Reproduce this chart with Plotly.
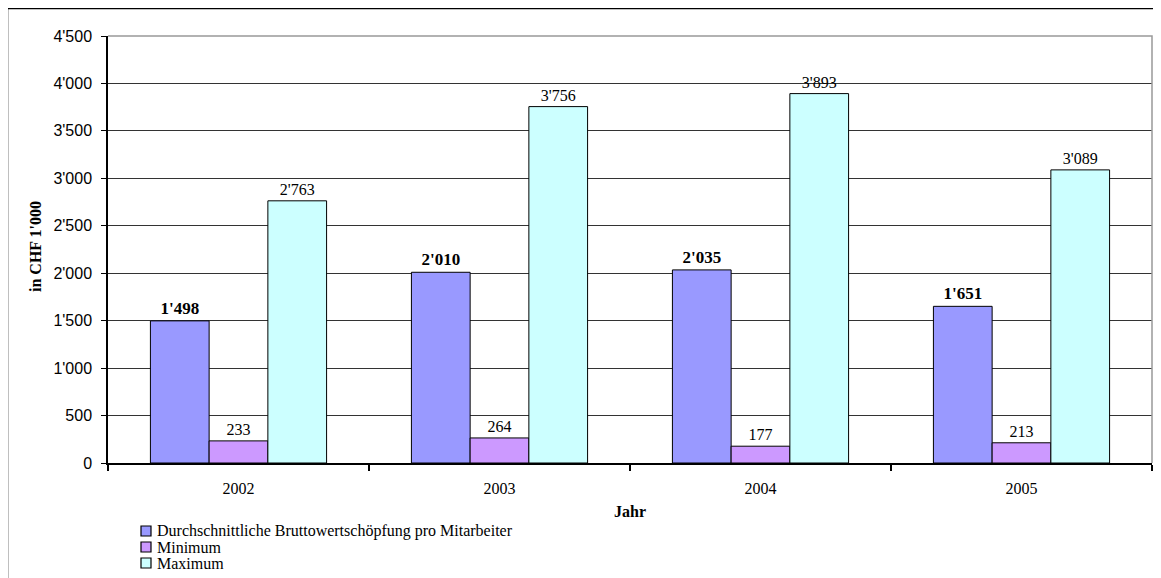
import plotly.graph_objects as go

years = ["2002", "2003", "2004", "2005"]
avg_vals = [1498, 2010, 2035, 1651]
min_vals = [233, 264, 177, 213]
max_vals = [2763, 3756, 3893, 3089]
series_names = ["Durchschnittliche Bruttowertschöpfung pro Mitarbeiter", "Minimum", "Maximum"]
series_colors = ["#9999FF", "#CC99FF", "#CCFFFF"]
y_ticks = [0, 500, 1000, 1500, 2000, 2500, 3000, 3500, 4000, 4500]

# page body has an 8px margin, so the figure is laid out in page pixels minus 8
W, H = 1153, 570
L, R, T, B = 100, 9, 28, 115
pw, ph = W - L - R, H - T - B


def px_x(p):
    return (p - L) / pw


def px_y(p):
    return (H - B - p) / ph


serif = "Liberation Serif, Times New Roman, serif"
sans = "Liberation Sans, Arial, sans-serif"

fig = go.Figure()
for vals, name, col, bold in zip([avg_vals, min_vals, max_vals], series_names, series_colors,
                                 [True, False, False]):
    fig.add_trace(go.Bar(
        x=years, y=vals, name=name,
        marker=dict(color=col, line=dict(color="#000000", width=1)),
        texttemplate="<b>%{y:,}</b>" if bold else "%{y:,}",
        textposition="outside",
        textfont=dict(family=serif, size=17 if bold else 16, color="#000000"),
        cliponaxis=False, showlegend=False))

# outer chart border
fig.add_shape(type="rect", xref="paper", yref="paper",
              x0=px_x(-0.5), x1=px_x(W + 20), y0=px_y(H + 20), y1=px_y(0.5),
              line=dict(color="#000000", width=1.5), fillcolor="rgba(0,0,0,0)", layer="below")
# plot area top/right border
fig.add_shape(type="path", xref="paper", yref="paper",
              path="M 0,1 L 1,1 L 1,0", line=dict(color="#999999", width=1.5))

# legend (drawn as shapes + text to match the tight line spacing)
leg_x0 = 133
leg_y = [523, 539, 555]
for name, col, yc in zip(series_names, series_colors, leg_y):
    fig.add_shape(type="rect", xref="paper", yref="paper",
                  x0=px_x(leg_x0), x1=px_x(leg_x0 + 10), y0=px_y(yc + 5), y1=px_y(yc - 5),
                  line=dict(color="#000000", width=1.2), fillcolor=col)
    fig.add_annotation(xref="paper", yref="paper", x=px_x(leg_x0 + 14), y=px_y(yc),
                       xanchor="left", yanchor="middle", text=name, showarrow=False,
                       font=dict(family=serif, size=16, color="#000000"))

# axis titles
fig.add_annotation(xref="paper", yref="paper", x=0.5, y=px_y(504), xanchor="center", yanchor="middle",
                   text="<b>Jahr</b>", showarrow=False,
                   font=dict(family=serif, size=16, color="#000000"))
fig.add_annotation(xref="paper", yref="paper", x=px_x(27), y=px_y(239), xanchor="center", yanchor="middle",
                   text="<b>in CHF 1'000</b>", textangle=-90, showarrow=False,
                   font=dict(family=serif, size=16, color="#000000"))

fig.update_layout(
    width=W, height=H,
    margin=dict(l=L, r=R, t=T, b=B, autoexpand=False),
    paper_bgcolor="#FFFFFF", plot_bgcolor="#FFFFFF",
    separators=".'",
    barmode="group", bargap=0.325, bargroupgap=0,
    showlegend=False,
    xaxis=dict(showgrid=False, showline=True, linecolor="#000000", linewidth=2,
               ticks="outside", tickson="boundaries", ticklen=6, tickwidth=2, tickcolor="#000000",
               ticklabelstandoff=10,
               tickfont=dict(family=serif, size=16, color="#000000")),
    yaxis=dict(range=[0, 4500], tickvals=y_ticks, tickformat=",",
               showgrid=True, gridcolor="#333333", gridwidth=1,
               showline=True, linecolor="#000000", linewidth=1.5,
               ticks="outside", ticklen=5, tickcolor="#000000", ticklabelstandoff=6,
               tickfont=dict(family=sans, size=16, color="#000000"),
               zeroline=False),
)

fig.write_html("out.html")
